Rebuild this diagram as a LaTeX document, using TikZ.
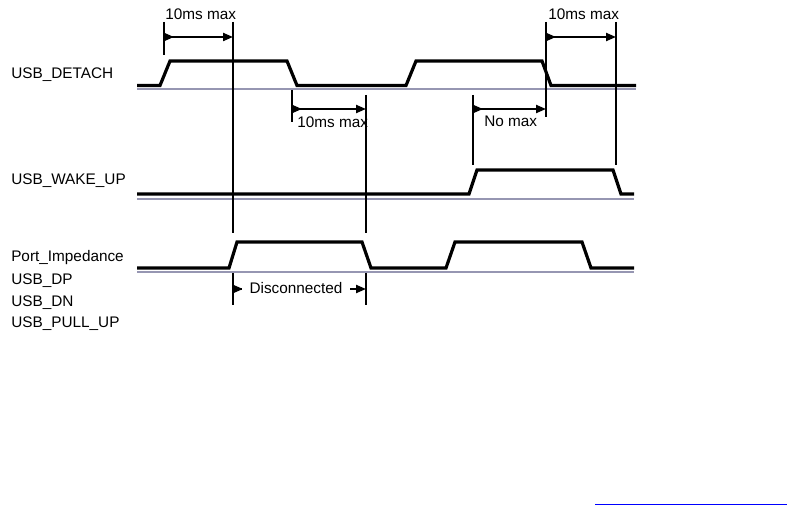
\documentclass[tikz,border=0pt]{standalone}
\usepackage{fontspec}
\setmainfont{Liberation Sans}
\usetikzlibrary{arrows.meta}
\definecolor{gridgray}{RGB}{150,150,178}

\begin{document}
\begin{tikzpicture}[x=0.75pt, y=-0.75pt,
    sig/.style={line width=2.4pt, line join=miter},
    refline/.style={line width=1.6pt, gridgray},
    edgeline/.style={line width=2pt},
    tick/.style={line width=1.6pt},
    dim/.style={line width=1.6pt,
                {Triangle[reversed,length=7.5pt,width=6pt]}-{Triangle[length=7.5pt,width=6pt]}},
    lbl/.style={inner sep=0pt, anchor=base west, font=\fontsize{11.5}{13.5}\selectfont}
  ]
    \useasboundingbox (0,0) rectangle (788,505);

    % signal names
    \node[lbl] (detach) at (11,79)    {USB\_DETACH};
    \node[lbl] (wakeup) at (11,185)   {USB\_WAKE\_UP};
    \node[lbl] (portz)  at (11,262)   {Port\_Impedance};
    \node[lbl] (dp)     at (11,284.5) {USB\_DP};
    \node[lbl] (dn)     at (11,306.5) {USB\_DN};
    \node[lbl] (pullup) at (11,328)   {USB\_PULL\_UP};

    % waveforms
    \draw[refline] (137,89) -- (636,89);
    \draw[sig] (137,85.5) -- (160,85.5) -- (170,61) -- (287,61) -- (297,85.5)
               -- (406,85.5) -- (416,61) -- (542,61) -- (551,85.5) -- (636,85.5);
    \draw[refline] (137,199) -- (634,199);
    \draw[sig] (137,194) -- (469,194) -- (477,170) -- (613,170) -- (621,194) -- (634,194);
    \draw[refline] (137,272) -- (634,272);
    \draw[sig] (137,268) -- (229,268) -- (237,242) -- (362,242) -- (371,268)
               -- (446,268) -- (455,242) -- (582,242) -- (591,268) -- (634,268);

    % timing marks
    \draw[edgeline] (233,22) -- (233,233) (233,273) -- (233,305);
    \draw[edgeline] (366,95) -- (366,233) (366,273) -- (366,305);
    \draw[edgeline] (546,22) -- (546,117);
    \draw[edgeline] (616,22) -- (616,165);
    \draw[tick] (164,22) -- (164,55);
    \draw[tick] (292,90) -- (292,122);
    \draw[tick] (473,95) -- (473,165);

    % intervals
    \draw[dim] (164,37) -- (233,37);
    \node[lbl] (max1) at (165,20) {10ms max};
    \draw[dim] (292,109) -- (366,109);
    \node[lbl] (max2) at (297,128) {10ms max};
    \draw[dim] (473,109) -- (546,109);
    \node[lbl] (nomax) at (484,127) {No max};
    \draw[dim] (546,37) -- (616,37);
    \node[lbl] (max3) at (548,20) {10ms max};
    \draw[dim] (233,289) -- (366,289);
    \node[lbl, anchor=base, fill=white, inner xsep=6pt] (disc) at (296,294) {Disconnected};

    \draw[blue, line width=0.75pt] (595,504) -- (787,504);
  \end{tikzpicture}
\end{document}
